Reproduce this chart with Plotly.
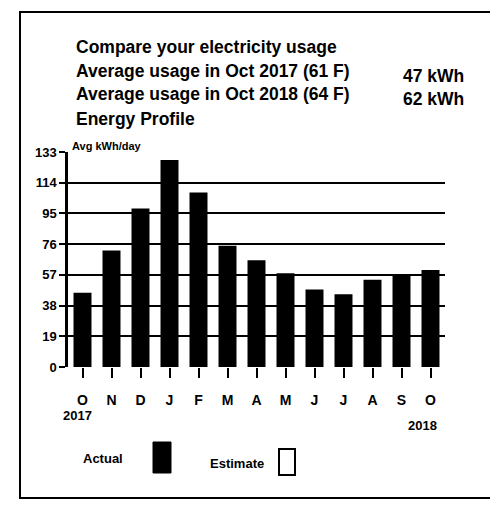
import plotly.graph_objects as go

months = ["O", "N", "D", "J", "F", "M", "A", "M", "J", "J", "A", "S", "O"]
actual = [46, 72, 98, 128, 108, 75, 66, 58, 48, 45, 54, 57, 60]
y_ticks = [0, 19, 38, 57, 76, 95, 114, 133]
y_tick_labels = ["0", "19", "38", "57", "76", "95", "114", "133"]
year_labels = ["2017", "2018"]
title_lines = ["Compare your electricity usage",
               "Average usage in Oct 2017 (61 F)",
               "Average usage in Oct 2018 (64 F)",
               "Energy Profile"]
title_values = ["47 kWh", "62 kWh"]

OFF = 8  # page body margin
W, H = 490, 502
# plot area in screen pixels
SL, SR, ST, SB = 68, 445, 152, 367
L, R, T, B = SL - OFF, SR - OFF, ST - OFF, SB - OFF
FONT = "Liberation Sans, Arial, sans-serif"

def px(x):
    return (x - SL) / (SR - SL)

def py(y):
    return (SB - y) / (SB - ST)

xs = list(range(len(months)))

fig = go.Figure()
fig.add_trace(go.Bar(x=xs, y=actual, marker=dict(color="black", line=dict(width=0)),
                     width=0.62, showlegend=False, hoverinfo="skip"))

fig.update_layout(
    width=W, height=H,
    margin=dict(l=L, r=W - R, t=T, b=H - B),
    paper_bgcolor="white", plot_bgcolor="white",
    font=dict(family=FONT, color="black"),
    xaxis=dict(range=[-0.5, len(months) - 0.5], tickvals=xs, ticktext=months,
               showgrid=False, zeroline=False, showline=False,
               ticks="outside", ticklen=10, tickwidth=2, tickcolor="black",
               ticklabelstandoff=10,
               tickfont=dict(size=14, family=FONT, weight="bold")),
    yaxis=dict(range=[0, 133], tickvals=y_ticks, ticktext=y_tick_labels,
               showgrid=True, gridcolor="black", gridwidth=1.5,
               zeroline=False, showline=True, linecolor="black", linewidth=2.5,
               ticks="outside", ticklen=6, tickwidth=1.5, tickcolor="black",
               tickfont=dict(size=13, family=FONT, weight="bold")),
)

ann = []
title_y = [47, 71, 94, 119]
for t, y in zip(title_lines, title_y):
    ann.append(dict(text=t, x=px(74), y=py(y), xref="paper", yref="paper",
                    xanchor="left", yanchor="middle", showarrow=False,
                    font=dict(size=17.5, family=FONT, weight="bold")))
for t, y in zip(title_values, [76, 99]):
    ann.append(dict(text=t, x=px(466), y=py(y), xref="paper", yref="paper",
                    xanchor="right", yanchor="middle", showarrow=False,
                    font=dict(size=17.5, family=FONT, weight="bold")))
ann.append(dict(text="Avg kWh/day", x=px(70), y=py(146), xref="paper", yref="paper",
                xanchor="left", yanchor="middle", showarrow=False,
                font=dict(size=11, family=FONT, weight="bold")))
ann.append(dict(text=year_labels[0], x=0, y=py(415), xref="x", yref="paper",
                xanchor="center", yanchor="middle", showarrow=False, xshift=-5,
                font=dict(size=13, family=FONT, weight="bold")))
ann.append(dict(text=year_labels[1], x=len(months) - 1, y=py(425), xref="x", yref="paper",
                xanchor="center", yanchor="middle", showarrow=False, xshift=-8,
                font=dict(size=13, family=FONT, weight="bold")))
ann.append(dict(text="Actual", x=px(103), y=py(458), xref="paper", yref="paper",
                xanchor="center", yanchor="middle", showarrow=False,
                font=dict(size=13, family=FONT, weight="bold")))
ann.append(dict(text="Estimate", x=px(237), y=py(463), xref="paper", yref="paper",
                xanchor="center", yanchor="middle", showarrow=False,
                font=dict(size=13, family=FONT, weight="bold")))
fig.update_layout(annotations=ann)

shapes = [
    dict(type="rect", xref="paper", yref="paper", x0=px(153), x1=px(171), y0=py(442), y1=py(473),
         fillcolor="black", line=dict(color="black", width=1)),
    dict(type="rect", xref="paper", yref="paper", x0=px(279), x1=px(295), y0=py(449), y1=py(475),
         fillcolor="white", line=dict(color="black", width=2)),
    dict(type="rect", xref="paper", yref="paper", x0=px(20), x1=px(492), y0=py(12), y1=py(498),
         fillcolor="rgba(0,0,0,0)", line=dict(color="black", width=2)),
]
fig.update_layout(shapes=shapes)

fig.write_html("out.html")
